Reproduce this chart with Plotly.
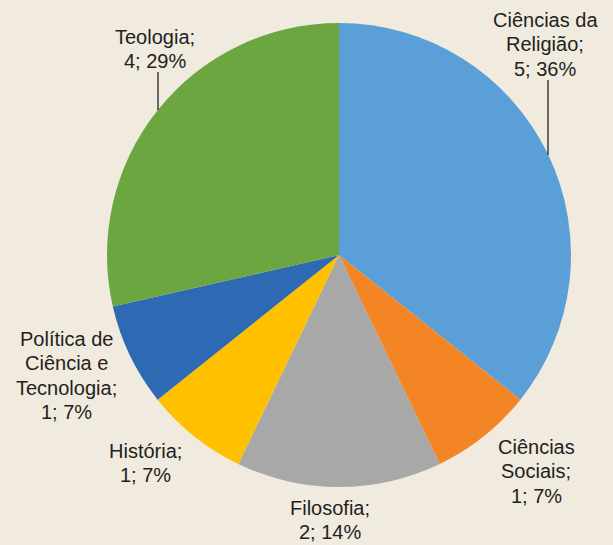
import plotly.graph_objects as go

## Data
categories = ["Ciências da Religião", "Ciências Sociais", "Filosofia", "História",
              "Política de Ciência e Tecnologia", "Teologia"]
counts = [5, 1, 2, 1, 1, 4]
percents = [36, 7, 14, 7, 7, 29]
label_lines = [["Ciências da", "Religião;"], ["Ciências", "Sociais;"], ["Filosofia;"],
               ["História;"], ["Política de", "Ciência e", "Tecnologia;"], ["Teologia;"]]
colors = ["#5b9fd8", "#f48525", "#a8a8a8", "#ffc000", "#2e69b4", "#6ca641"]

W, H = 613, 545
bg = "#f0eadf"

# pie placement in pixels (center, radius)
cx, cy, r = 339, 255, 232

fig = go.Figure()
fig.add_trace(go.Pie(
    labels=categories, values=counts, sort=False, direction="clockwise",
    marker=dict(colors=colors, line=dict(width=0)),
    textinfo="none", hoverinfo="label+value+percent", showlegend=False,
    domain=dict(x=[(cx - r) / W, (cx + r) / W], y=[(H - cy - r) / H, (H - cy + r) / H]),
))

# label positions (pixel centre of the top line of each label), one annotation per line
label_pos = [(545, 20), (536, 447), (330, 508), (145, 451), (66, 339), (155, 37)]
line_h = 24.3
for lines, n, p, (lx, ly) in zip(label_lines, counts, percents, label_pos):
    all_lines = lines + ["%d; %d%%" % (n, p)]
    for i, t in enumerate(all_lines):
        fig.add_annotation(
            x=lx / W, y=1 - (ly + i * line_h) / H, xref="paper", yref="paper",
            text=t, showarrow=False, xanchor="center", yanchor="middle",
            font=dict(family="Liberation Sans", size=20, color="#231f20"),
        )

# leader lines
for x0, y0, y1 in [(548, 80, 155), (158, 72, 110)]:
    fig.add_shape(type="line", xref="paper", yref="paper",
                  x0=x0 / W, x1=x0 / W, y0=1 - y0 / H, y1=1 - y1 / H,
                  line=dict(color="#231f20", width=1.3))

fig.update_layout(
    width=W, height=H, margin=dict(l=0, r=0, t=0, b=0),
    paper_bgcolor=bg, plot_bgcolor=bg,
)
fig.write_html("out.html", config={"displayModeBar": False},
               post_script="document.body.style.margin='0';")
